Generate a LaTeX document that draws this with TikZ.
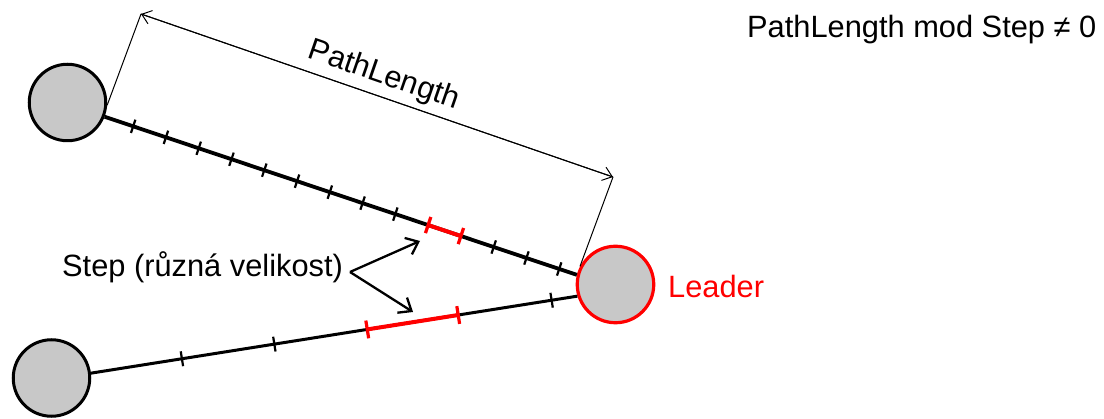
\documentclass[tikz,border=0pt]{standalone}
\usepackage{fontspec}
\setmainfont{Liberation Sans}
\usetikzlibrary{arrows.meta,calc}
\definecolor{nodegray}{RGB}{200,200,200}
\begin{document}
\begin{tikzpicture}[x=1pt,y=-1pt,
  agent/.style={circle, draw=black, line width=3pt, fill=nodegray,
    minimum size=76.5pt, inner sep=0pt},
  leadagent/.style={agent, draw=red, line width=3.2pt},
  lbl/.style={font=\fontsize{30.8}{36}\selectfont, inner sep=0pt},
  toptrail/.style={line width=3.8pt},
  bottrail/.style={line width=3pt},
  tickmark/.style={line width=2.2pt},
  redtick/.style={line width=3.2pt, draw=red},
  redseg/.style={line width=4pt, draw=red},
  dimline/.style={line width=1pt},
  barb/.style={-{Straight Barb[length=9pt,width=14pt,line width=1pt]}},
  pointer/.style={line width=2.3pt, -{Straight Barb[length=11pt,width=18pt,line width=2.3pt]}}
]
\useasboundingbox (0,0) rectangle (1104,419);

% agents
\node[agent] (a) at (67.5,102.5) {};
\node[agent] (b) at (51.5,378) {};
\node[leadagent] (l) at (615.5,284.5) {};
\node[lbl, text=red, anchor=base west] (lt) at (668,298) {Leader};

% trails towards the leader
\coordinate (as) at (a.-21);
\coordinate (le1) at (l.166);
\coordinate (bs) at (b.7);
\coordinate (le2) at (l.197);
\draw[toptrail] (as) -- (le1);
\draw[bottrail] (bs) -- (le2);

% step marks on the upper trail
\foreach \t in {0.0605,0.1299,0.1993,0.2687,0.3381,0.4075,0.4769,0.5463,0.6157,0.8239,0.8933,0.9627} {
  \coordinate (m) at ($(as)!\t!(le1)$);
  \draw[tickmark] ($(m)!7pt!90:(le1)$) -- ($(m)!7pt!-90:(le1)$);
}
\draw[redseg] ($(as)!0.6851!(le1)$) -- ($(as)!0.7545!(le1)$);
\foreach \t in {0.6851,0.7545} {
  \coordinate (m) at ($(as)!\t!(le1)$);
  \draw[redtick] ($(m)!8.5pt!90:(le1)$) -- ($(m)!8.5pt!-90:(le1)$);
}

% step marks on the lower trail
\foreach \t in {0.187,0.377,0.947} {
  \coordinate (m) at ($(bs)!\t!(le2)$);
  \draw[tickmark] ($(m)!7.5pt!90:(le2)$) -- ($(m)!7.5pt!-90:(le2)$);
}
\draw[redseg] ($(bs)!0.568!(le2)$) -- ($(bs)!0.755!(le2)$);
\foreach \t in {0.568,0.755} {
  \coordinate (m) at ($(bs)!\t!(le2)$);
  \draw[redtick] ($(m)!9pt!90:(le2)$) -- ($(m)!9pt!-90:(le2)$);
}

% path length dimension
\coordinate (dl) at (141,14);
\coordinate (dr) at (613,177);
\draw[dimline] (a.-4) -- (dl);
\draw[dimline] (l.153) -- (dr);
\draw[dimline, barb] (dl) -- (dr);
\draw[dimline, barb] (dr) -- (dl);
\path (dl) -- (dr) node[lbl, midway, sloped, anchor=south, yshift=6pt] (pl) {PathLength};

% step annotation
\node[lbl, anchor=base west] (st) at (62,277) {Step (různá velikost)};
\coordinate (v) at (350,272);
\coordinate (p1) at (420,241);
\coordinate (p2) at (413,312);
\draw[pointer] (v) -- (p1);
\draw[pointer] (v) -- (p2);

% condition
\node[lbl, anchor=base west] (cond) at (747,38) {PathLength mod Step ≠ 0};
\end{tikzpicture}
\end{document}
